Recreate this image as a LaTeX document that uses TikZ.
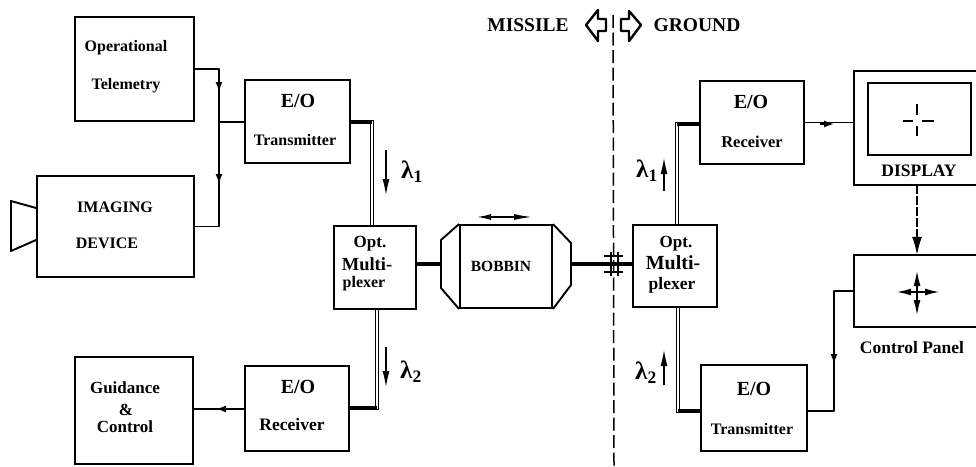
\documentclass[tikz,border=0pt]{standalone}
\usepackage{fontspec}
\setmainfont{Liberation Serif}[BoldFont={Liberation Serif Bold}]
\usetikzlibrary{arrows.meta,calc}
\tikzset{
  x=1pt,y=-1pt,
  box/.style={draw,line width=1.9pt,inner sep=0pt,minimum width=#1},
  txt/.style={inner sep=0pt,font=\bfseries\fontsize{#1}{#1}\selectfont},
  wire/.style={line width=1.6pt},
  heavy/.style={line width=4pt},
  fiber/.style={double=white,line width=1.3pt,double distance=1.5pt},
  midtip/.style={line width=1.6pt,-{Latex[length=10pt,width=7pt]}},
  wavetip/.style={line width=1.2pt,-{Latex[length=16pt,width=7pt]}},
  hollow/.style={line width=2.4pt,line join=round}
}
\newcommand{\boxnode}[6]{\node[box={(#4-#2)*1pt},minimum height={(#5-#3)*1pt},#6] (#1) at ({(#2+#4)/2},{(#3+#5)/2}) {};}
\begin{document}
\begin{tikzpicture}
\useasboundingbox (0,0) rectangle (976,466);
% boxes
\boxnode{optel}{75}{17}{194}{121}{}
\boxnode{imag}{37}{176}{194}{277}{}
\boxnode{txl}{245}{80}{350}{163}{}
\boxnode{guid}{75}{357}{193}{464}{}
\boxnode{rxl}{245}{366}{349}{451}{}
\boxnode{muxl}{334}{226}{416}{309}{}
\boxnode{bob}{460}{225}{552}{308}{}
\boxnode{muxr}{633}{225}{717}{307}{}
\boxnode{rxr}{700}{81}{804}{164}{}
\boxnode{txr}{701}{365}{807}{451}{}
\boxnode{scr}{868}{83}{971}{155}{}
\node[inner sep=0pt,minimum width=122pt,minimum height=114pt] (disp) at (915,128) {};
\node[inner sep=0pt,minimum width=122pt,minimum height=72pt] (ctrl) at (915,291) {};
\draw[line width=1.9pt] (disp.north east) -- (disp.north west) -- (disp.south west) -- (disp.south east);
\draw[line width=1.9pt] (ctrl.north east) -- (ctrl.north west) -- (ctrl.south west) -- (ctrl.south east);
% camera lens
\draw[line width=1.9pt,line join=round] (imag.west |- 0,208) -- (11,201) -- (11,251) -- (imag.west |- 0,240);
% bobbin ends
\draw[line width=1.9pt,line join=round] (bob.north west) -- (441,240) -- (441,288) -- (bob.south west);
\draw[line width=1.9pt,line join=round] (bob.north east) -- (571,243) -- (571,285) -- (bob.south east);
\coordinate (bobl) at (441,264);
\coordinate (bobr) at (571,264);
% labels
\node[txt=16] (t1) at (126,48) {Operational};
\node[txt=16] (t2) at (126,86) {Telemetry};
\node[txt=20] (t3) at (298,101) {E/O};
\node[txt=16] (t4) at (295,140) {Transmitter};
\node[txt=16] (t5) at (115,207) {IMAGING};
\node[txt=16] (t6) at (107,243) {DEVICE};
\node[txt=17] (t7) at (125,388) {Guidance};
\node[txt=17] (t8) at (126,410) {\&};
\node[txt=17] (t9) at (125,427) {Control};
\node[txt=20] (t10) at (298,387) {E/O};
\node[txt=17.5] (t11) at (292,425) {Receiver};
\node[txt=17] (t12) at (370,244) {Opt.};
\node[txt=18.5] (t13) at (367,264) {Multi-};
\node[txt=16] (t14) at (364,284) {plexer};
\node[txt=15.5] (t15) at (501,266) {BOBBIN};
\node[txt=19.5] (t16) at (528,25) {MISSILE};
\node[txt=19.5] (t17) at (697,25) {GROUND};
\node[txt=20] (t18) at (751,102) {E/O};
\node[txt=16.5] (t19) at (752,142) {Receiver};
\node[txt=17.5] (t20) at (919,171) {DISPLAY};
\node[txt=17.5] (t21) at (912,348) {Control Panel};
\node[txt=20] (t22) at (754,389) {E/O};
\node[txt=16] (t23) at (752,429) {Transmitter};
\node[txt=17] (t24) at (676,244) {Opt.};
\node[txt=20] (t25) at (673,263) {Multi-};
\node[txt=17.5] (t26) at (672,285) {plexer};
\node[txt=25] (l1) at (412,172) {λ\textsubscript{1}};
\node[txt=25] (l2) at (411,372) {λ\textsubscript{2}};
\node[txt=25] (l3) at (647,171) {λ\textsubscript{1}};
\node[txt=25] (l4) at (646,373) {λ\textsubscript{2}};
% electrical bus
\coordinate (bus) at (219,122);
\draw[wire,line join=round] (optel.east) -| (bus) |- (imag.east);
\draw[wire] (bus) -- (txl.west |- bus);
\draw[midtip] (219,80) -- (219,92);
\draw[midtip] (219,172) -- (219,184);
\draw[wire] (rxl.west |- 0,409) -- (guid.east |- 0,409);
\draw[midtip] (228,409) -- (216,409);
\draw[wire] (rxr.east) -- (disp.west |- rxr.east);
\draw[midtip] (820,124) -- (834,124);
\draw[wire,dash pattern=on 9pt off 2pt] (disp.south -| 917,0) -- (917,240);
\draw[line width=1.6pt,-{Latex[length=18pt,width=10pt]}] (917,236) -- (ctrl.north -| 917,0);
\coordinate (txup) at (834,291);
\draw[wire,line join=round] (txr.east |- 0,411) -| (txup) -- (ctrl.west |- txup);
\draw[midtip] (834,348) -- (834,364);
% optical fibres
\coordinate (b1) at ($(muxl.north)+(-3,0)$);
\coordinate (b2) at ($(muxl.south)+(2,0)$);
\coordinate (b3) at ($(muxr.north)+(2,0)$);
\coordinate (b4) at ($(muxr.south)+(3,0)$);
\draw[fiber] (txl.east |- 0,122) -| (b1);
\draw[fiber] (rxl.east |- 0,408) -| (b2);
\draw[fiber] (rxr.west |- 0,124) -| (b3);
\draw[fiber] (txr.west |- 0,411) -| (b4);
\draw[heavy] (txl.east |- 0,122) -- (b1 |- 0,122);
\draw[heavy] (rxl.east |- 0,408) -- (b2 |- 0,408);
\draw[heavy] (rxr.west |- 0,124) -- (b3 |- 0,124);
\draw[heavy] (txr.west |- 0,411) -- (b4 |- 0,411);
\draw[heavy] (muxl.east |- bobl) -- (bobl);
\draw[heavy] (bobr) -- (muxr.west |- bobr);
% connector break and divide
\coordinate (divt) at (613,15);
\coordinate (divb) at (614,466);
\draw[line width=1.5pt,dash pattern=on 13pt off 4.5pt] (divt) -- (divb);
\draw[line width=2.2pt] (604,256) -- (623,256);
\draw[line width=2.2pt] (604,272) -- (623,272);
\draw[line width=1.4pt] (611,252) -- (611,276);
\draw[line width=1.4pt] (618,252) -- (618,276);
% wavelength arrows
\draw[wavetip] (386,150) -- (386,195);
\draw[wavetip] (386,347) -- (386,387);
\draw[wavetip] (664,191) -- (664,158);
\draw[wavetip] (664,385) -- (664,350);
% bobbin motion
\draw[line width=1.4pt,{Latex[length=14pt,width=6pt]}-{Latex[length=18pt,width=6pt]}] (477,217) -- (532,217);
% missile and ground arrows
\draw[hollow] (586,25) -- (598,10) -- (598,19) -- (606,19) -- (606,31) -- (598,31) -- (598,41) -- cycle;
\draw[hollow] (641,25) -- (629,11) -- (629,19) -- (621,19) -- (621,31) -- (629,31) -- (629,41) -- cycle;
% cross on display
\draw[line width=1.7pt] (903,121) -- (913,121) (922,121) -- (934,121) (917,104) -- (917,115) (917,126) -- (917,136);
% joystick
\draw[line width=1.3pt,{Latex[length=14pt,width=7pt]}-{Latex[length=14pt,width=7pt]}] (897,292) -- (939,292);
\draw[line width=1.3pt,{Latex[length=15pt,width=7pt]}-{Latex[length=15pt,width=7pt]}] (917,271) -- (917,315);
\end{tikzpicture}
\end{document}
